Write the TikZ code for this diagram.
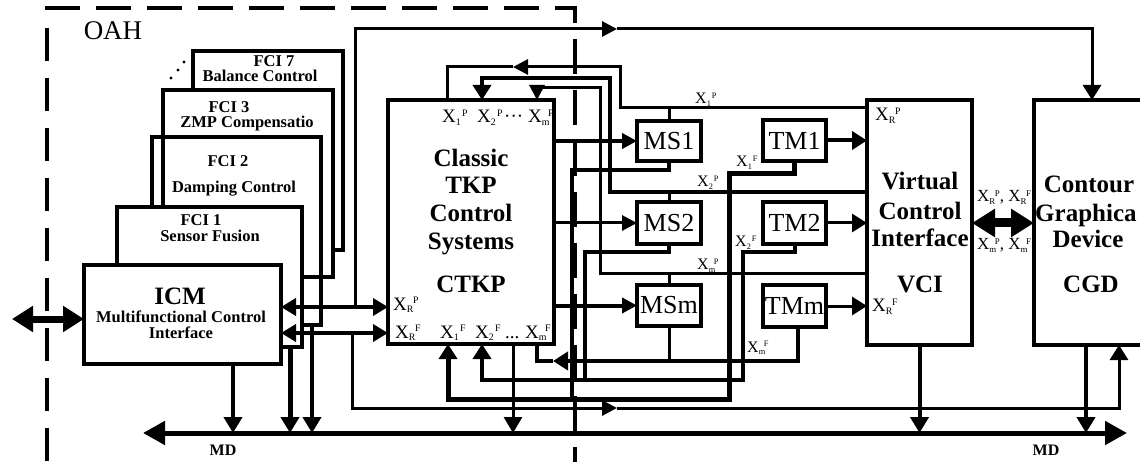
\documentclass[tikz,border=0pt]{standalone}
\usepackage{fontspec}
\setmainfont{Liberation Serif}
\usepackage{graphicx}
\usetikzlibrary{arrows.meta}
\newcommand{\xs}[2]{X\rlap{\raisebox{-0.14em}{\scalebox{0.52}{#1}}}\kern0.32em\raisebox{0.33em}{\scalebox{0.52}{#2}}}
\begin{document}
\begin{tikzpicture}[x=1pt,y=-1pt,
  box/.style={draw, line width=4pt, fill=white, inner sep=0pt, outer sep=0pt, anchor=north west},
  obox/.style={draw, line width=4pt, inner sep=0pt, outer sep=0pt, anchor=north west},
  bigB/.style={font=\fontsize{25}{28}\selectfont\bfseries, inner sep=0pt, anchor=base},
  smB/.style={font=\fontsize{16.5}{18}\selectfont\bfseries, inner sep=0pt, anchor=base},
  msf/.style={font=\fontsize{26}{28}\selectfont},
  xa/.style={font=\fontsize{19}{20}\selectfont, inner sep=0pt, anchor=base west},
  xc/.style={font=\fontsize{17}{18}\selectfont, inner sep=0pt, anchor=base west},
  xb/.style={font=\fontsize{16}{18}\selectfont, inner sep=0pt, anchor=base west},
  ln3/.style={line width=3pt},
  ln4/.style={line width=4pt},
  ln5/.style={line width=5pt},
  tipS/.style={-{Triangle[length=15pt,width=15pt]}},
  tipF/.style={-{Triangle[length=15pt,width=18pt]}},
  tipD/.style={-{Triangle[length=16pt,width=18pt]}},
  dtip/.style={{Triangle[length=15pt,width=17pt]}-{Triangle[length=15pt,width=17pt]}}
]
\useasboundingbox (0,0) rectangle (1140,462);
\clip (0,0) rectangle (1140,462);

% OAH boundary
\draw[line width=4pt, dash pattern=on 35pt off 16pt] (45,8) -- (575,8) -- (575,462);
\draw[line width=4pt, dash pattern=on 33pt off 17pt] (47,28) -- (47,462);
\node[font=\fontsize{27}{30}\selectfont, inner sep=0pt, anchor=base] (oah) at (113,40) {OAH};

% FCI stack
\node[box, minimum width=150pt, minimum height=199pt] (fci7) at (193,51) {};
\node[box, minimum width=170pt, minimum height=187pt] (fci3) at (163,90) {};
\node[obox, minimum width=169pt, minimum height=188pt] (fci2) at (152,137) {};
\node[box, minimum width=185pt, minimum height=140pt] (fci1) at (117,207) {};
\node[box, minimum width=197pt, minimum height=99pt] (icm) at (84,265) {};
\fill (171,78) circle[radius=1.7pt] (178,70) circle[radius=1.7pt] (184,62) circle[radius=1.7pt];

\node[smB] at (274,67) {FCI 7};
\node[smB] at (260,82) {Balance Control};
\node[smB] at (229,113) {FCI 3};
\node[smB] at (247,128) {ZMP Compensatio};
\node[smB] at (228,167) {FCI 2};
\node[smB] at (234,193) {Damping Control};
\node[smB] at (201,226) {FCI 1};
\node[smB] at (210,242) {Sensor Fusion};
\node[bigB] at (180,305) {ICM};
\node[smB] at (181,322) {Multifunctional Control};
\node[smB] at (181,338) {Interface};

% main boxes
\node[box, minimum width=166pt, minimum height=244pt] (ctkp) at (388,100) {};
\node[box, msf, minimum width=64pt, minimum height=40pt] (ms1) at (637,121) {MS1};
\node[box, msf, minimum width=64pt, minimum height=42pt] (ms2) at (637,202) {MS2};
\node[box, msf, minimum width=64pt, minimum height=41pt] (msm) at (637,285) {MSm};
\node[box, msf, minimum width=63pt, minimum height=41pt] (tm1) at (763,120) {TM1};
\node[box, msf, minimum width=63pt, minimum height=42pt] (tm2) at (763,202) {TM2};
\node[box, msf, minimum width=63pt, minimum height=42pt] (tmm) at (763,285) {TMm};
\node[box, minimum width=105pt, minimum height=245pt] (vci) at (867,100) {};
\node[box, minimum width=130pt, minimum height=245pt] (cgd) at (1034,100) {};

\node[bigB] at (471,167) {Classic};
\node[bigB] at (471,194) {TKP};
\node[bigB] at (471,222) {Control};
\node[bigB] at (471,250) {Systems};
\node[bigB] at (471,292) {CTKP};
\node[bigB] at (920,190) {Virtual};
\node[bigB] at (920,220) {Control};
\node[bigB] at (920,247) {Interface};
\node[bigB] at (920,292) {VCI};
\node[bigB] at (1089,193) {Contour};
\node[bigB, anchor=base west] at (1035,222) {Graphica};
\node[bigB] at (1088,248) {Device};
\node[bigB] at (1091,292) {CGD};

% labels
\node[xa] at (442,123) {\xs{1}{P}};
\node[xa] at (477,123) {\xs{2}{P}};
\node[xa] at (504,123) {···};
\node[xa] at (528,123) {\xs{m}{P}};
\node[xa] at (393,310) {\xs{R}{P}};
\node[xa] at (395,338) {\xs{R}{F}};
\node[xa] at (440,338) {\xs{1}{F}};
\node[xa] at (475,338) {\xs{2}{F}};
\node[xa] at (505,338) {...};
\node[xa] at (525,338) {\xs{m}{F}};
\node[xa] at (875,121) {\xs{R}{P}};
\node[xa] at (872,312) {\xs{R}{F}};
\node[xc] at (977,202) {\xs{R}{P}, \xs{R}{F}};
\node[xc] at (977,250) {\xs{m}{P}, \xs{m}{F}};
\node[xb] at (695,104) {\xs{1}{P}};
\node[xb] at (697,187) {\xs{2}{P}};
\node[xb] at (697,270) {\xs{m}{P}};
\node[xb] at (736,167) {\xs{1}{F}};
\node[xb] at (735,247) {\xs{2}{F}};
\node[xb] at (747,352) {\xs{m}{F}};

% MD bus
\coordinate (mdL) at (143,433);
\coordinate (mdR) at (1127,433);
\draw[line width=5pt, {Triangle[length=22pt,width=23pt]}-{Triangle[length=22pt,width=23pt]}] (mdL) -- (mdR);
\node[smB, font=\fontsize{16}{18}\selectfont\bfseries] at (223,455) {MD};
\node[smB, font=\fontsize{16}{18}\selectfont\bfseries] at (1046,455) {MD};

\draw[ln4, tipD] (icm.south -| 233,0) -- (233,0 |- mdL);
\draw[ln5, tipD] (fci1.south -| 290,0) -- (290,0 |- mdL);
\draw[ln4, tipD] (fci2.south -| 312,0) -- (312,0 |- mdL);
\draw[ln3, tipD] (ctkp.south -| 513,0) -- (513,0 |- mdL);
\draw[ln4, tipD] (vci.south) -- (vci.south |- mdL);
\draw[ln4, tipD] (cgd.south -| 1086,0) -- (1086,0 |- mdL);

% external arrow into ICM
\coordinate (ext) at (12,319);
\draw[line width=7pt, {Triangle[length=21pt,width=25pt]}-{Triangle[length=21pt,width=25pt]}] (ext) -- (icm.west |- ext);

% ICM <-> CTKP
\coordinate (jP) at (355,307);
\coordinate (jF) at (352,333);
\draw[line width=4.5pt, dtip] (icm.east |- jP) -- (ctkp.west |- jP);
\draw[line width=4.5pt, dtip] (icm.east |- jF) -- (ctkp.west |- jF);

% lines to CGD
\coordinate (topmid) at (617,29);
\coordinate (botmid) at (617,408);
\draw[ln3, tipS] (jP) |- (topmid);
\draw[ln3, tipF] (topmid) -| (cgd.north -| 1092,0);
\draw[ln3, tipS] (jF) |- (botmid);
\draw[ln3, tipF] (botmid) -| (cgd.south -| 1119,0);

% CTKP -> MS, TM -> VCI
\draw[ln4, tipS] (ctkp.east |- ms1.west) -- (ms1.west);
\draw[ln3, tipS] (ctkp.east |- ms2.west) -- (ms2.west);
\draw[ln4, tipS] (ctkp.east |- msm.west) -- (msm.west);
\draw[ln4, tipF] (tm1.east) -- (vci.west |- tm1.east);
\draw[ln3, tipF] (tm2.east) -- (vci.west |- tm2.east);
\draw[ln3, tipF] (tmm.east) -- (vci.west |- tmm.east);

% VCI <-> CGD
\draw[line width=9pt, {Triangle[length=23pt,width=27pt]}-{Triangle[length=23pt,width=27pt]}] (vci.east |- 0,223) -- (cgd.west |- 0,223);

% P lines from VCI back to CTKP
\coordinate (p1arr) at (513,67);
\draw[ln3, tipS] (vci.west |- 0,108) -| (620,67) -- (p1arr);
\draw[ln3] (p1arr) -| (ctkp.north -| 447,0);
\draw[ln3] (ms1.north) -- (ms1.north |- 0,108);
\draw[ln4, tipF] (vci.west |- 0,192) -| (610,78) -| (ctkp.north -| 482,0);
\draw[ln3] (ms2.north) -- (ms2.north |- 0,192);
\draw[ln3, tipS] (vci.west |- 0,274) -| (600,88) -| (ctkp.north -| 537,0);
\draw[ln3] (msm.north) -- (msm.north |- 0,274);

% F lines from TM back to CTKP
\coordinate (j1F) at (572,399);
\coordinate (j2F) at (585,380);
\coordinate (mfarr) at (553,361);
\draw[ln5, tipF] (tm1.south) |- (729,174) |- (448,399) -- (ctkp.south -| 448,0);
\draw[ln4, tipF] (tm2.south) |- (743,252) |- (482,380) -- (ctkp.south -| 482,0);
\draw[ln4, tipF] (tmm.south -| 798,0) |- (mfarr);
\draw[ln4] (mfarr) -| (ctkp.south -| 537,0);
\draw[ln4] (ms1.south) |- (572,170) -- (j1F);
\draw[ln4] (ms2.south) |- (585,252) -- (j2F);
\draw[ln3] (msm.south) -- (msm.south |- mfarr);
\end{tikzpicture}
\end{document}
